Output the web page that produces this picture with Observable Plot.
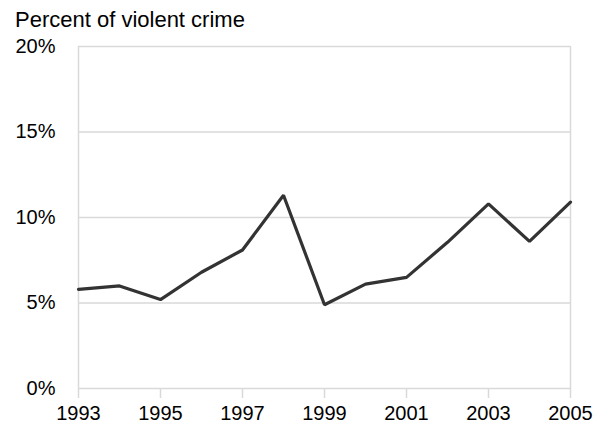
<!DOCTYPE html>
<html>
<head>
<meta charset="utf-8">
<script src="https://cdn.jsdelivr.net/npm/d3@7"></script>
<script src="https://cdn.jsdelivr.net/npm/@observablehq/plot@0.6"></script>
<style>
  html, body { margin: 0; padding: 0; background: #fff; }
  #wrap { position: relative; width: 607px; height: 423px; font-family: "Liberation Sans", Arial, sans-serif; }
  #title { position: absolute; left: 15px; top: 7px; font-size: 22px; line-height: 1.15; color: #000; white-space: nowrap; }
</style>
</head>
<body>
<div id="wrap">
  <div id="title">Percent of violent crime</div>
</div>
<script>
const years = [1993, 1994, 1995, 1996, 1997, 1998, 1999, 2000, 2001, 2002, 2003, 2004, 2005];
const percents = [5.8, 6.0, 5.2, 6.8, 8.1, 11.3, 4.9, 6.1, 6.5, 8.55, 10.8, 8.6, 10.9];
const xTicks = [1993, 1995, 1997, 1999, 2001, 2003, 2005];
const yTicks = [0, 5, 10, 15, 20];

const data = years.map((year, i) => ({year, value: percents[i]}));

const chart = Plot.plot({
  width: 607,
  height: 423,
  marginTop: 46,
  marginBottom: 35,
  marginLeft: 78,
  marginRight: 37,
  style: {fontFamily: '"Liberation Sans", Arial, sans-serif', fontSize: "20px", color: "#000", background: "#fff", overflow: "visible"},
  x: {domain: [1993, 2005]},
  y: {domain: [0, 20]},
  marks: [
    Plot.gridY(yTicks, {stroke: "#d9d9d9", strokeOpacity: 1, strokeWidth: 1.5}),
    Plot.ruleX([1993, 2005], {stroke: "#d9d9d9", strokeWidth: 1.5}),
    Plot.axisY({ticks: yTicks, tickFormat: d => d + "%", tickSize: 0, tickPadding: 23, label: null, fill: "#000"}),
    Plot.axisX({ticks: xTicks, tickFormat: d => String(d), tickSize: 10, tickPadding: 7, label: null, stroke: "#d9d9d9", strokeWidth: 1.5, fill: "#000"}),
    Plot.line(data, {x: "year", y: "value", stroke: "#333333", strokeWidth: 3.2, strokeLinejoin: "miter"})
  ]
});
document.getElementById("wrap").prepend(chart);
</script>
</body>
</html>
